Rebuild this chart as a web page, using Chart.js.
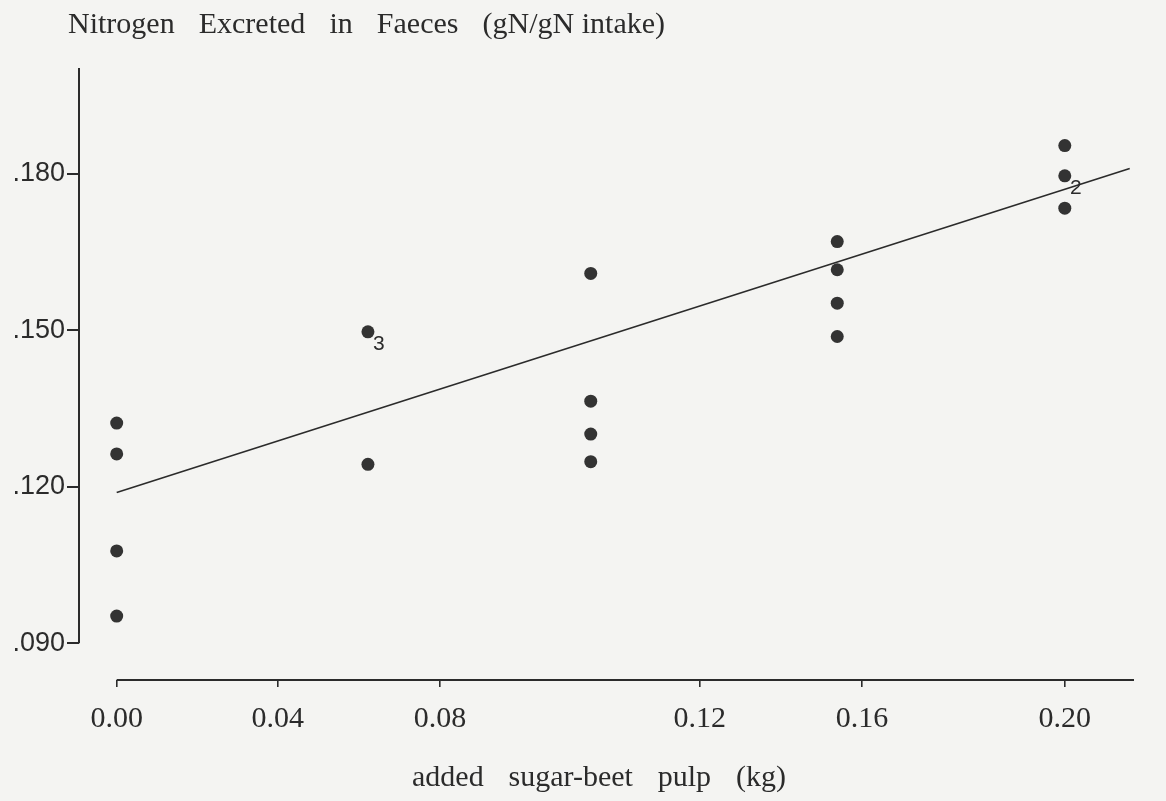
<!DOCTYPE html>
<html>
<head>
<meta charset="utf-8">
<script src="https://cdn.jsdelivr.net/npm/chart.js@4.4.1/dist/chart.umd.min.js"></script>
<style>
  html, body { margin: 0; padding: 0; background: #f4f4f2; }
  canvas { display: block; }
</style>
</head>
<body>
<canvas id="chart" width="1166" height="801"></canvas>
<script>
// added sugar-beet pulp (kg), one entry per feeding level
const pulpKg = [0, 0.053, 0.10, 0.152, 0.20]
// N excreted in faeces (gN/gN intake) at each level
const faecalN = [
  [0.1322, 0.1263, 0.1077, 0.0952],
  [0.1497, 0.1243],
  [0.1609, 0.1364, 0.1301, 0.1248],
  [0.1670, 0.1616, 0.1552, 0.1488],
  [0.1854, 0.1796, 0.1734]
]
// points that stand for several coincident animals
const repX = [0.053, 0.20]
const repY = [0.1497, 0.1796]
const repN = ['3', '2']
// fitted regression line end points
const fitX = [0, 0.2137]
const fitY = [0.1189, 0.1810]

// the printed x ticks are not evenly spaced: where each one sits, and its label
const xTickAt = [0, 0.034, 0.0682, 0.123, 0.1572, 0.200]
const xTickText = ['0.00', '0.04', '0.08', '0.12', '0.16', '0.20']
const yTicks = [0.090, 0.120, 0.150, 0.180]

const ink = '#2b2b2b'
const bg = '#f4f4f2'

const points = []
pulpKg.forEach((x, i) => faecalN[i].forEach(y => points.push({ x, y })))

// spread words between left and right, like the typeset original
function spreadText(ctx, text, left, right, y) {
  const words = text.split(' ')
  const widths = words.map(w => ctx.measureText(w).width)
  const total = widths.reduce((a, b) => a + b, 0)
  const gap = (right - left - total) / (words.length - 1)
  let cx = left
  words.forEach((w, i) => {
    ctx.fillText(w, cx, y)
    cx += widths[i] + gap
  })
}

const paperPlugin = {
  id: 'paper',
  beforeDraw(chart) {
    const { ctx, width, height } = chart
    ctx.save()
    ctx.fillStyle = bg
    ctx.fillRect(0, 0, width, height)
    ctx.restore()
  },
  afterDraw(chart) {
    const { ctx, chartArea, scales } = chart
    const { x, y } = scales
    ctx.save()

    // detached axis lines
    ctx.strokeStyle = ink
    ctx.lineWidth = 2
    ctx.beginPath()
    ctx.moveTo(chartArea.left, chartArea.top)
    ctx.lineTo(chartArea.left, y.getPixelForValue(yTicks[0]))
    ctx.moveTo(x.getPixelForValue(xTickAt[0]), chartArea.bottom)
    ctx.lineTo(chartArea.right, chartArea.bottom)
    ctx.stroke()

    // replicate counts
    ctx.fillStyle = ink
    ctx.font = 'normal 21px "Liberation Sans", sans-serif'
    ctx.textAlign = 'center'
    ctx.textBaseline = 'middle'
    repN.forEach((n, i) => {
      ctx.fillText(n, x.getPixelForValue(repX[i]) + 11, y.getPixelForValue(repY[i]) + 12)
    })

    // titles
    ctx.textAlign = 'left'
    ctx.textBaseline = 'alphabetic'
    ctx.font = 'normal 30px "Liberation Serif", serif'
    spreadText(ctx, 'Nitrogen Excreted in Faeces (gN/gN\u00a0intake)', 68, 665, 33)
    ctx.font = 'normal 30px "Liberation Serif", serif'
    spreadText(ctx, 'added sugar-beet pulp (kg)', 412, 786, 786)

    ctx.restore()
  }
}

new Chart(document.getElementById('chart'), {
  type: 'scatter',
  data: {
    datasets: [
      {
        data: points,
        pointRadius: 6.5,
        pointHoverRadius: 6.5,
        pointBackgroundColor: '#333333',
        pointBorderWidth: 0
      },
      {
        type: 'line',
        data: fitX.map((x, i) => ({ x, y: fitY[i] })),
        borderColor: ink,
        borderWidth: 1.6,
        pointRadius: 0,
        fill: false
      }
    ]
  },
  options: {
    responsive: false,
    animation: false,
    devicePixelRatio: 1,
    layout: {
      padding: { left: 0, top: 68, right: 32, bottom: 0 }
    },
    scales: {
      x: {
        type: 'linear',
        min: -0.00795,
        max: 0.2146,
        afterBuildTicks: (scale) => {
          scale.ticks = xTickAt.map(value => ({ value }))
        },
        afterFit: (scale) => {
          scale.height = 121
        },
        border: { display: false },
        grid: {
          drawOnChartArea: false,
          drawTicks: true,
          tickLength: 7,
          lineWidth: 1.6,
          color: ink
        },
        ticks: {
          padding: 14,
          color: ink,
          font: { family: 'Liberation Serif', size: 30 },
          callback: (v, i) => xTickText[i]
        }
      },
      y: {
        type: 'linear',
        min: 0.08295,
        max: 0.20028,
        afterBuildTicks: (scale) => {
          scale.ticks = yTicks.map(value => ({ value }))
        },
        afterFit: (scale) => {
          scale.width = 79
        },
        border: { display: false },
        grid: {
          drawOnChartArea: false,
          drawTicks: true,
          tickLength: 12,
          lineWidth: 2,
          color: ink
        },
        ticks: {
          padding: 2,
          color: ink,
          font: { family: '"Liberation Sans Narrow", "Liberation Sans"', size: 27 },
          callback: v => v.toFixed(3).replace(/^0/, '')
        }
      }
    },
    plugins: {
      legend: { display: false },
      tooltip: { enabled: false }
    }
  },
  plugins: [paperPlugin]
})
</script>
</body>
</html>
